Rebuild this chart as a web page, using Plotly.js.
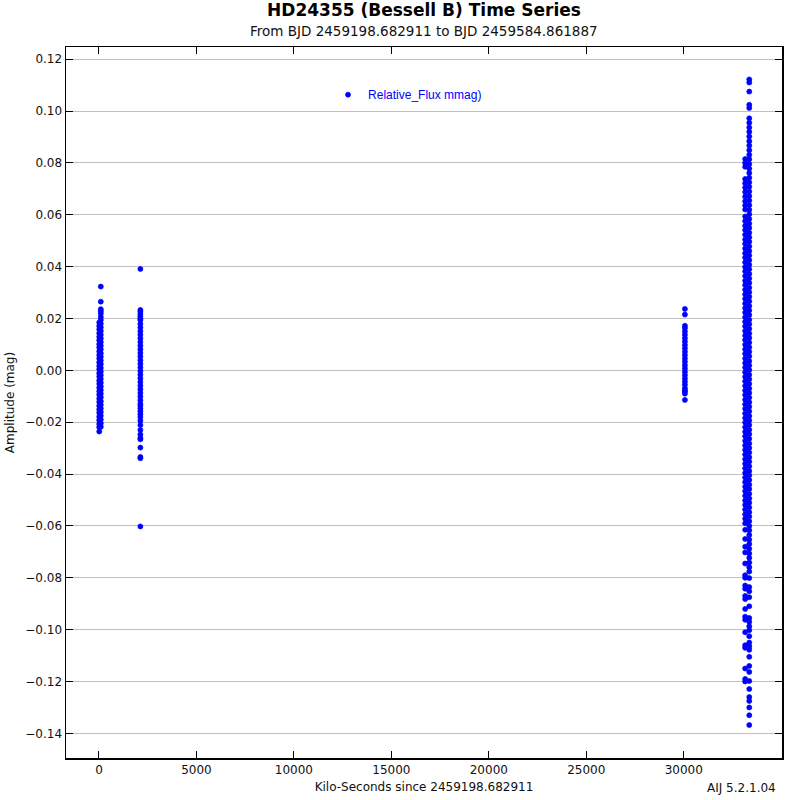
<!DOCTYPE html>
<html>
<head>
<meta charset="utf-8">
<script src="https://cdn.plot.ly/plotly-3.0.1.min.js"></script>
<style>
  html, body { margin: 0; padding: 0; background: #fff; }
  #chart { width: 800px; height: 800px; }
</style>
</head>
<body>
<div id="chart"></div>
<script>
// kilo-seconds since BJD 2459198.682911, relative flux in mag

// night 1
var night1aTime = 15;
var night1aMag = [0.0185, 0.0171, 0.0158, 0.0143, 0.0129, 0.0116, 0.0101, 0.0088, 0.0073, 0.0059,
	0.0046, 0.0031, 0.0017, 0.0004, -0.0011, -0.0024, -0.0039, -0.0052, -0.0067, -0.0081,
	-0.0094, -0.0109, -0.0122, -0.0137, -0.0151, -0.0164, -0.0179, -0.0192, -0.0207, -0.0219, -0.0236];
var night1bTime = 95;
var night1bMag = [0.0323, 0.0265, 0.0236, 0.0228, 0.0219, 0.0206, 0.0194, 0.0180, 0.0166, 0.0152,
	0.0137, 0.0123, 0.0109, 0.0095, 0.0081, 0.0066, 0.0052, 0.0038, 0.0024, 0.0009,
	-0.0005, -0.0019, -0.0033, -0.0048, -0.0062, -0.0076, -0.0090, -0.0104, -0.0119, -0.0133,
	-0.0147, -0.0161, -0.0175, -0.0190, -0.0204, -0.0218];

// night 2
var night2Time = 2125;
var night2Mag = [0.0391, 0.0233, 0.0226, 0.0217, 0.0208, 0.0199, 0.0194, 0.0179, 0.0165, 0.0151,
	0.0137, 0.0123, 0.0109, 0.0095, 0.0081, 0.0067, 0.0053, 0.0039, 0.0025, 0.0011,
	-0.0003, -0.0017, -0.0031, -0.0045, -0.0059, -0.0073, -0.0087, -0.0101, -0.0115, -0.0129,
	-0.0137, -0.0147, -0.0158, -0.0169, -0.0180, -0.0194, -0.0211, -0.0230, -0.0247, -0.0261,
	-0.0266, -0.0298, -0.0334, -0.0339, -0.0602];

// night 3
var night3Time = 30060;
var night3Mag = [0.0237, 0.0215, 0.0172, 0.0163, 0.0150, 0.0137, 0.0124, 0.0111, 0.0098, 0.0085,
	0.0072, 0.0059, 0.0046, 0.0033, 0.0020, 0.0007, -0.0006, -0.0019, -0.0032, -0.0044,
	-0.0056, -0.0069, -0.0078, -0.0082, -0.0090, -0.0114];

// night 4, two sub-columns
var night4aTime = 33150;
var night4aMag = [0.0815, 0.0800, 0.0785, 0.0738, 0.0722, 0.0705, 0.0688, 0.0670, 0.0652, 0.0636,
	0.0620, 0.0593, 0.0576, 0.0558, 0.0541, 0.0523, 0.0505, 0.0488, 0.0470, 0.0452,
	0.0435, 0.0417, 0.0399, 0.0382, 0.0364, 0.0346, 0.0329, 0.0311, 0.0293, 0.0276,
	0.0258, 0.0240, 0.0223, 0.0205, 0.0187, 0.0170, 0.0152, 0.0134, 0.0117, 0.0099,
	0.0081, 0.0064, 0.0046, 0.0028, 0.0011, -0.0007, -0.0025, -0.0042, -0.0060, -0.0078,
	-0.0095, -0.0113, -0.0131, -0.0148, -0.0166, -0.0184, -0.0201, -0.0219, -0.0237, -0.0254,
	-0.0272, -0.0290, -0.0307, -0.0325, -0.0343, -0.0360, -0.0378, -0.0396, -0.0413, -0.0431,
	-0.0449, -0.0466, -0.0484, -0.0502, -0.0519, -0.0537, -0.0555, -0.0572, -0.0590, -0.0615,
	-0.0650, -0.0680, -0.0702, -0.0745, -0.0790, -0.0800, -0.0830, -0.0842, -0.0870, -0.0882,
	-0.0920, -0.0950, -0.0962, -0.1010, -0.1060, -0.1070, -0.1150, -0.1190, -0.1200];
var night4bTime = 33360;
var night4bMag = [0.1122, 0.1110, 0.1075, 0.1024, 0.1012, 0.0972, 0.0955, 0.0937, 0.0920, 0.0902,
	0.0884, 0.0867, 0.0849, 0.0831, 0.0814, 0.0796, 0.0778, 0.0761, 0.0743, 0.0725,
	0.0708, 0.0690, 0.0672, 0.0655, 0.0637, 0.0619, 0.0602, 0.0584, 0.0566, 0.0549,
	0.0531, 0.0513, 0.0496, 0.0478, 0.0460, 0.0443, 0.0425, 0.0407, 0.0390, 0.0372,
	0.0354, 0.0337, 0.0319, 0.0301, 0.0284, 0.0266, 0.0248, 0.0231, 0.0213, 0.0195,
	0.0178, 0.0160, 0.0142, 0.0125, 0.0107, 0.0089, 0.0072, 0.0054, 0.0036, 0.0019,
	0.0001, -0.0017, -0.0034, -0.0052, -0.0070, -0.0087, -0.0105, -0.0123, -0.0140, -0.0158,
	-0.0176, -0.0193, -0.0211, -0.0229, -0.0246, -0.0264, -0.0282, -0.0299, -0.0317, -0.0335,
	-0.0352, -0.0370, -0.0388, -0.0405, -0.0423, -0.0441, -0.0458, -0.0476, -0.0494, -0.0511,
	-0.0529, -0.0547, -0.0564, -0.0582, -0.0600, -0.0617, -0.0635, -0.0653, -0.0670, -0.0688,
	-0.0706, -0.0723, -0.0741, -0.0759, -0.0776, -0.0801, -0.0836, -0.0852, -0.0875, -0.0910,
	-0.0955, -0.0970, -0.0987, -0.1002, -0.1025, -0.1050, -0.1064, -0.1078, -0.1105, -0.1140,
	-0.1163, -0.1198, -0.1229, -0.1260, -0.1275, -0.1300, -0.1330, -0.1368];

var xTicks = [0, 5000, 10000, 15000, 20000, 25000, 30000, 35000];
var yTicks = [0.12, 0.10, 0.08, 0.06, 0.04, 0.02, 0.00, -0.02, -0.04, -0.06, -0.08, -0.10, -0.12, -0.14];

var runs = [
	[night1aTime, night1aMag], [night1bTime, night1bMag],
	[night2Time, night2Mag], [night3Time, night3Mag],
	[night4aTime, night4aMag], [night4bTime, night4bMag]
];

var xs = [], ys = [];
runs.forEach(function (r) {
	r[1].forEach(function (m) {
		xs.push(r[0]);
		ys.push(m);
	});
});

var font = '"Lucida Grande", "DejaVu Sans", sans-serif';

var trace = {
	x: xs,
	y: ys,
	type: 'scatter',
	mode: 'markers',
	name: 'Relative_Flux mmag)',
	marker: {color: '#0000ff', size: 5, symbol: 'circle', line: {color: '#0000ff', width: 0.7}}
};

var layout = {
	width: 800,
	height: 800,
	paper_bgcolor: '#ffffff',
	plot_bgcolor: '#ffffff',
	font: {family: font, size: 12, color: '#000000'},
	margin: {t: 47, b: 42, l: 66, r: 18},
	title: {
		text: '<b>HD24355 (Bessell B) Time Series</b>',
		font: {family: font, size: 17, color: '#000000'},
		xref: 'paper', x: 0.5, xanchor: 'center',
		yref: 'container', y: 0.988, yanchor: 'middle'
	},
	showlegend: true,
	legend: {
		x: 0.366, y: 0.933, xanchor: 'left', yanchor: 'middle',
		bgcolor: 'rgba(0,0,0,0)',
		font: {family: 'Liberation Sans, Arial, sans-serif', size: 12, color: '#0000ff'}
	},
	xaxis: {
		range: [-1690, 35040],
		tickvals: xTicks,
		ticktext: xTicks.map(String),
		ticks: 'inside', ticklen: 7, tickcolor: '#000',
		showline: true, linecolor: '#000', linewidth: 1.5, mirror: 'allticks',
		showgrid: false, zeroline: false,
		tickfont: {size: 12, color: '#111'},
		title: {text: 'Kilo-Seconds since 2459198.682911', font: {size: 12, color: '#111'}, standoff: 6}
	},
	yaxis: {
		range: [-0.1495, 0.1247],
		tickvals: yTicks,
		tickformat: '.2f',
		ticks: 'inside', ticklen: 7, tickcolor: '#000',
		showline: true, linecolor: '#000', linewidth: 1.5, mirror: 'allticks',
		showgrid: true, gridcolor: '#c0c0c0', gridwidth: 1,
		zeroline: false,
		tickfont: {size: 12, color: '#111'},
		title: {text: 'Amplitude (mag)', font: {size: 12, color: '#111'}, standoff: 8}
	},
	annotations: [
		{
			text: 'From BJD 2459198.682911 to BJD 2459584.861887',
			xref: 'paper', yref: 'paper', x: 0.5, y: 1.0225,
			xanchor: 'center', yanchor: 'middle', showarrow: false,
			font: {family: font, size: 13.5, color: '#111'}
		},
		{
			text: 'AIJ 5.2.1.04',
			xref: 'paper', yref: 'paper', x: 0.994, y: -0.042,
			xanchor: 'right', yanchor: 'middle', showarrow: false,
			font: {family: font, size: 12, color: '#111'}
		}
	]
};

Plotly.newPlot('chart', [trace], layout, {staticPlot: true});
</script>
</body>
</html>
